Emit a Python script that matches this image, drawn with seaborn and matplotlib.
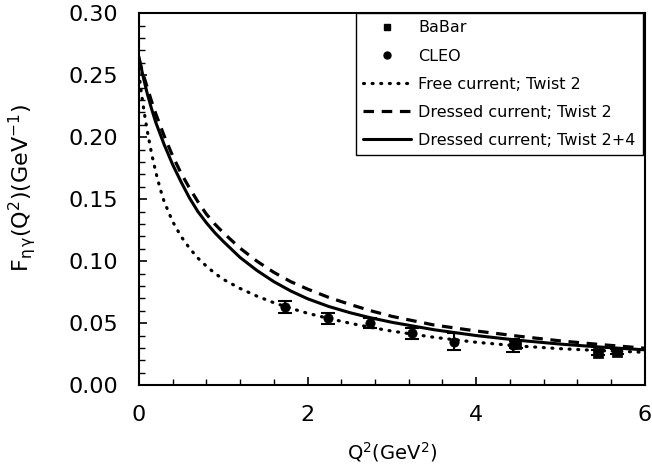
import matplotlib
matplotlib.use("Agg")
import matplotlib.pyplot as plt
import seaborn as sns
import pandas as pd
from matplotlib.lines import Line2D
from matplotlib.ticker import MultipleLocator, FormatStrFormatter

# ---- data ----
q2_curve = [0.0, 0.025, 0.05, 0.075, 0.1, 0.15, 0.2, 0.25, 0.3, 0.4, 0.5, 0.6, 0.7, 0.8, 0.9,
            1.0, 1.2, 1.4, 1.6, 1.8, 2.0, 2.25, 2.5, 2.75, 3.0, 3.5, 4.0, 4.5, 5.0, 5.5, 6.0]
free_tw2 = [0.252, 0.238, 0.226, 0.215, 0.205, 0.187, 0.172, 0.159, 0.148, 0.132, 0.120,
            0.1105, 0.1025, 0.096, 0.0903, 0.0854, 0.078, 0.0718, 0.0665, 0.062, 0.058,
            0.0538, 0.050, 0.0466, 0.0436, 0.0386, 0.0346, 0.0316, 0.0294, 0.0278, 0.0265]
dressed_tw2 = [0.263, 0.257, 0.251, 0.2455, 0.240, 0.229, 0.219, 0.210, 0.201, 0.185, 0.171,
               0.159, 0.148, 0.138, 0.130, 0.123, 0.1105, 0.100, 0.091, 0.0835, 0.0775,
               0.0708, 0.0652, 0.0600, 0.0555, 0.0485, 0.0437, 0.0395, 0.0357, 0.0326, 0.0298]
dressed_tw24 = [0.265, 0.257, 0.249, 0.242, 0.235, 0.223, 0.212, 0.203, 0.194, 0.178, 0.164,
                0.151, 0.140, 0.131, 0.123, 0.116, 0.103, 0.0925, 0.0835, 0.0760, 0.0697,
                0.0635, 0.0585, 0.0543, 0.0507, 0.0447, 0.0400, 0.0362, 0.0331, 0.0306, 0.0285]

cleo_q2 = [1.73, 2.24, 2.74, 3.24, 3.74, 4.44]
cleo_f = [0.063, 0.054, 0.050, 0.042, 0.035, 0.032]
cleo_err = [0.005, 0.0043, 0.004, 0.0045, 0.007, 0.005]

babar_q2 = [4.47, 5.45, 5.67]
babar_f = [0.033, 0.026, 0.027]
babar_err = [0.003, 0.002, 0.002]

legend_labels = ["BaBar", "CLEO", "Free current; Twist 2",
                 "Dressed current; Twist 2", "Dressed current; Twist 2+4"]

sns.set_style("ticks")
plt.rcParams['font.family'] = ['DejaVu Sans']
plt.rcParams['text.color'] = 'black'
plt.rcParams['axes.labelcolor'] = 'black'
plt.rcParams['xtick.color'] = 'black'
plt.rcParams['ytick.color'] = 'black'

fig = plt.figure(figsize=(6.52, 4.72), dpi=100)
ax = fig.add_axes([0.213, 0.184, 0.776, 0.788])

df = pd.DataFrame({"q2": q2_curve, "free": free_tw2, "d2": dressed_tw2, "d24": dressed_tw24})

DOT = (0, (0.3, 2.4))
DASH = (0, (3.3, 2.4))

sns.lineplot(data=df, x="q2", y="free", ax=ax, color="black", lw=2.3)
ax.lines[-1].set_linestyle(DOT)
ax.lines[-1].set_dash_capstyle("round")
sns.lineplot(data=df, x="q2", y="d2", ax=ax, color="black", lw=2.3)
ax.lines[-1].set_linestyle(DASH)
sns.lineplot(data=df, x="q2", y="d24", ax=ax, color="black", lw=2.2)

ax.errorbar(cleo_q2, cleo_f, yerr=cleo_err, fmt="none", ecolor="black", elinewidth=1.5,
            capsize=5, capthick=1.5)
ax.errorbar(babar_q2, babar_f, yerr=babar_err, fmt="none", ecolor="black", elinewidth=1.5,
            capsize=5, capthick=1.5)
sns.scatterplot(x=cleo_q2, y=cleo_f, ax=ax, marker="o", s=45, color="black", edgecolor="black", zorder=5)
sns.scatterplot(x=babar_q2, y=babar_f, ax=ax, marker="s", s=42, color="black", edgecolor="black", zorder=5)

ax.set_xlim(0, 6)
ax.set_ylim(0, 0.30)
ax.xaxis.set_major_locator(MultipleLocator(2))
ax.xaxis.set_minor_locator(MultipleLocator(0.4))
ax.yaxis.set_major_locator(MultipleLocator(0.05))
ax.yaxis.set_minor_locator(MultipleLocator(0.01))
ax.yaxis.set_major_formatter(FormatStrFormatter("%.2f"))
ax.tick_params(which="both", direction="in", top=False, right=False, labelsize=16, color="black")
ax.tick_params(which="major", length=6, width=1.2)
ax.tick_params(which="minor", length=4, width=1.0)
ax.tick_params(axis="y", which="major", pad=15)
ax.tick_params(axis="x", which="major", pad=14)
for s in ax.spines.values():
    s.set_visible(True)
    s.set_linewidth(1.5)
    s.set_color("black")

ax.set_xlabel(r"Q$^2$(GeV$^2$)", fontsize=14, labelpad=11)
ax.set_ylabel(r"F$_{\mathregular{\eta\,\gamma}}$(Q$^2$)(GeV$^{\mathregular{ -1}}$)", fontsize=16)
ax.yaxis.set_label_coords(-0.20, 0.53)

handles = [
    Line2D([], [], marker="s", color="black", linestyle="none", markersize=5),
    Line2D([], [], marker="o", color="black", linestyle="none", markersize=5),
    Line2D([], [], color="black", lw=2.3, linestyle=DOT, dash_capstyle="round"),
    Line2D([], [], color="black", lw=2.3, linestyle=DASH),
    Line2D([], [], color="black", lw=2.2),
]
leg = ax.legend(handles, legend_labels, loc="upper right", bbox_to_anchor=(0.996, 1.0),
                fontsize=11.5, frameon=True, fancybox=False, framealpha=1,
                edgecolor="black", handlelength=3.0, borderaxespad=0, labelspacing=0.82,
                handletextpad=0.45, borderpad=0.45)
leg.get_frame().set_linewidth(1.0)

fig.savefig("out.png", dpi=100)
